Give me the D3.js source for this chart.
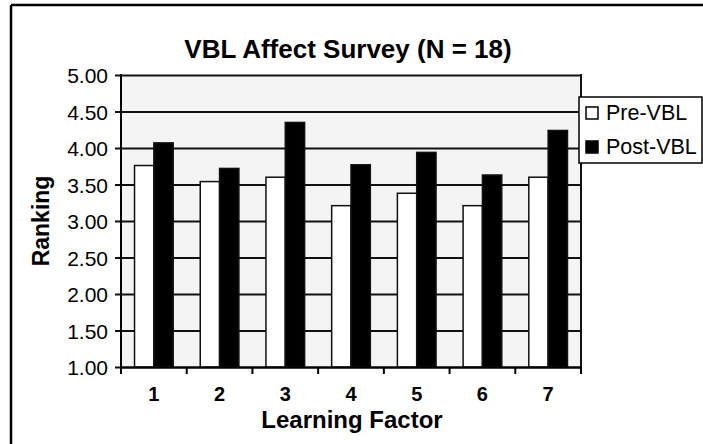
<!DOCTYPE html>
<html><head><meta charset="utf-8">
<script src="https://cdn.jsdelivr.net/npm/d3@7"></script>
<style>body{margin:0;background:#fff}svg{display:block}text{font-family:"Liberation Sans",Arial,sans-serif}</style>
</head><body>
<svg id="c" width="703" height="444"></svg>
<script>
const categories = ["1","2","3","4","5","6","7"];
const preVBL  = [3.76, 3.54, 3.60, 3.21, 3.38, 3.21, 3.60];
const postVBL = [4.07, 3.72, 4.35, 3.77, 3.94, 3.63, 4.24];
const seriesNames = ["Pre-VBL","Post-VBL"];
const yTicks = [1.00,1.50,2.00,2.50,3.00,3.50,4.00,4.50,5.00];

const svg = d3.select("#c");
const m = {l:121, t:75, r:581, b:367};
const x = d3.scaleBand().domain(categories).range([m.l, m.r]).paddingInner(0).paddingOuter(0);
const y = d3.scaleLinear().domain([1,5]).range([m.b, m.t]);
const xs = d3.scaleBand().domain(seriesNames).range([0, x.bandwidth()]).paddingInner(0).paddingOuter(0.7);

// outer frame (top + left)
svg.append("line").attr("x1",11).attr("x2",703).attr("y1",5).attr("y2",5).attr("stroke","#000").attr("stroke-width",2.5);
svg.append("line").attr("x1",11).attr("x2",11).attr("y1",5).attr("y2",444).attr("stroke","#000").attr("stroke-width",2.5);

// plot background
svg.append("rect").attr("x",m.l).attr("y",m.t).attr("width",m.r-m.l).attr("height",m.b-m.t).attr("fill","#f4f4f4");

// y axis with gridlines
const yAxis = d3.axisLeft(y).tickValues(yTicks).tickFormat(d3.format(".2f")).tickSize(-(m.r-m.l)).tickSizeOuter(0);
const gy = svg.append("g").attr("transform",`translate(${m.l},0)`).call(yAxis);
gy.select(".domain").remove();
gy.selectAll(".tick line").attr("stroke","#111").attr("stroke-width",2).attr("x1",-6);
gy.selectAll(".tick text").attr("x",-13).attr("font-size",21).attr("fill","#000").attr("dy","0.36em");

// bars
const data = categories.map((c,i)=>({c, v:[preVBL[i], postVBL[i]]}));
const groups = svg.append("g").selectAll("g").data(data).join("g").attr("transform",d=>`translate(${x(d.c)},0)`);
groups.selectAll("rect").data(d=>d.v.map((v,j)=>({s:seriesNames[j], v}))).join("rect")
  .attr("x",d=>xs(d.s)).attr("width",xs.bandwidth())
  .attr("y",d=>y(d.v)).attr("height",d=>y(1)-y(d.v))
  .attr("fill",(d)=>d.s==="Pre-VBL"?"#fff":"#000")
  .attr("stroke","#111").attr("stroke-width",1.5);

// plot frame: left axis, right border
svg.append("line").attr("x1",m.l).attr("x2",m.l).attr("y1",m.t-1).attr("y2",m.b+7).attr("stroke","#000").attr("stroke-width",2);
svg.append("line").attr("x1",m.r).attr("x2",m.r).attr("y1",m.t-1).attr("y2",m.b).attr("stroke","#111").attr("stroke-width",2);

// x axis
const xAxis = d3.axisBottom(x).tickSize(0).tickSizeOuter(0);
const gx = svg.append("g").attr("transform",`translate(0,${m.b})`).call(xAxis);
gx.select(".domain").attr("stroke","#000").attr("stroke-width",2);
gx.selectAll(".tick text").attr("y",0).attr("dy",34).attr("font-size",20).attr("font-weight","bold").attr("fill","#000");
const bounds = categories.map(c=>x(c)).concat([m.r]);
svg.append("g").selectAll("line").data(bounds).join("line")
  .attr("x1",d=>d).attr("x2",d=>d).attr("y1",m.b).attr("y2",m.b+7).attr("stroke","#000").attr("stroke-width",2);

// titles
svg.append("text").attr("x",348).attr("y",58).attr("text-anchor","middle").attr("font-size",26).attr("font-weight","bold").text("VBL Affect Survey (N = 18)");
svg.append("text").attr("x",352).attr("y",428).attr("text-anchor","middle").attr("font-size",24).attr("font-weight","bold").text("Learning Factor");
svg.append("text").attr("transform",`translate(49,${(m.t+m.b)/2}) rotate(-90)`).attr("text-anchor","middle").attr("font-size",23).attr("font-weight","bold").text("Ranking");

// legend
const lg = svg.append("g");
lg.append("rect").attr("x",579).attr("y",97).attr("width",123).attr("height",66).attr("fill","#fff").attr("stroke","#000").attr("stroke-width",1.5);
const li = lg.selectAll("g").data(seriesNames).join("g").attr("transform",(d,i)=>`translate(586,${107+i*34})`);
li.append("rect").attr("width",12).attr("height",12).attr("fill",(d,i)=>i===0?"#fff":"#000").attr("stroke","#000").attr("stroke-width",1.5);
li.append("text").attr("x",20).attr("y",13).attr("font-size",21.5).text(d=>d);
</script>
</body></html>
